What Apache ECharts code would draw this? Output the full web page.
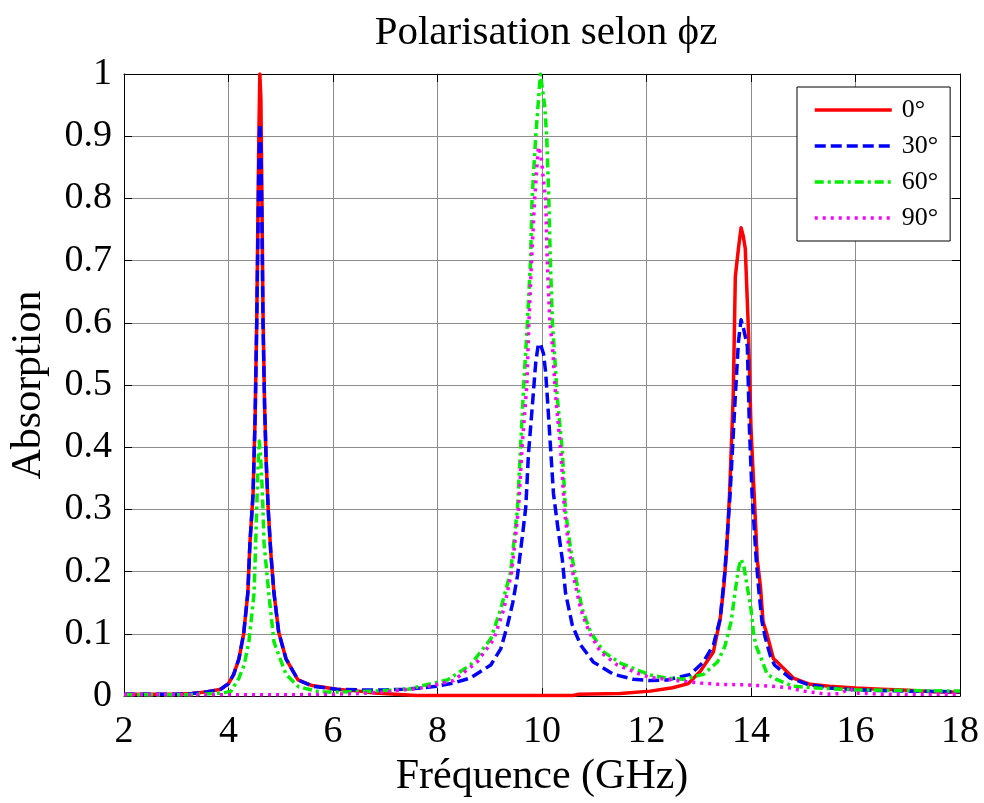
<!DOCTYPE html>
<html>
<head>
<meta charset="utf-8">
<title>Polarisation selon ϕz</title>
<script src="https://cdn.jsdelivr.net/npm/echarts@6/dist/echarts.min.js"></script>
<style>
  html, body { margin: 0; padding: 0; background: #ffffff; }
  #chart { width: 984px; height: 803px; }
</style>
</head>
<body>
<div id="chart"></div>
<script>
// Absorption spectra [frequency (GHz), absorption] for each polarisation angle
const abs0 = [
  [2.0,0.003],[2.5,0.003],[3.0,0.003],[3.3,0.004],[3.6,0.007],[3.85,0.011],[4.0,0.02],[4.1,0.035],
  [4.2,0.06],[4.29,0.1],[4.37,0.166],[4.41,0.246],[4.47,0.325],[4.51,0.45],[4.54,0.6],[4.56,0.75],
  [4.58,0.9],[4.6,1.0],[4.62,0.96],[4.64,0.8],[4.66,0.62],[4.69,0.47],[4.72,0.38],[4.76,0.3],
  [4.81,0.23],[4.87,0.166],[4.96,0.103],[5.1,0.06],[5.33,0.026],[5.6,0.017],[6.07,0.011],[6.5,0.008],
  [6.8,0.005],[7.2,0.003],[7.6,0.001],[10.6,0.001],[10.7,0.003],[11.5,0.004],[12.07,0.008],[12.5,0.0135],
  [12.8,0.02],[13.03,0.04],[13.28,0.071],[13.41,0.124],[13.48,0.177],[13.53,0.23],[13.59,0.325],[13.66,0.483],
  [13.7,0.674],[13.76,0.72],[13.81,0.753],[13.85,0.74],[13.89,0.72],[13.95,0.59],[14.0,0.43],[14.06,0.325],
  [14.12,0.219],[14.18,0.177],[14.23,0.12],[14.31,0.098],[14.43,0.06],[14.5,0.055],[14.81,0.029],[15.13,0.019],
  [15.5,0.016],[16.0,0.013],[16.5,0.011],[16.9,0.01],[17.5,0.007],[18.0,0.006]
];
const abs30 = [
  [2.0,0.003],[2.5,0.003],[3.0,0.003],[3.3,0.004],[3.6,0.007],[3.85,0.011],[4.0,0.02],[4.1,0.035],
  [4.2,0.06],[4.29,0.1],[4.37,0.166],[4.41,0.246],[4.47,0.325],[4.51,0.45],[4.54,0.6],[4.56,0.72],
  [4.58,0.85],[4.6,0.92],[4.62,0.88],[4.64,0.76],[4.66,0.6],[4.69,0.47],[4.72,0.38],[4.76,0.3],
  [4.81,0.23],[4.87,0.166],[4.96,0.103],[5.1,0.06],[5.33,0.026],[5.6,0.016],[6.07,0.011],[6.5,0.01],
  [7.0,0.01],[7.34,0.011],[7.68,0.013],[7.98,0.016],[8.3,0.021],[8.63,0.029],[9.02,0.05],[9.21,0.076],
  [9.34,0.114],[9.44,0.15],[9.53,0.193],[9.63,0.261],[9.69,0.304],[9.74,0.388],[9.82,0.472],[9.88,0.536],
  [9.93,0.566],[9.97,0.566],[10.03,0.55],[10.07,0.52],[10.1,0.483],[10.16,0.404],[10.22,0.325],[10.3,0.273],
  [10.39,0.219],[10.45,0.166],[10.58,0.114],[10.74,0.082],[10.98,0.055],[11.37,0.035],[11.75,0.027],[12.07,0.025],
  [12.4,0.026],[12.84,0.035],[13.09,0.055],[13.28,0.082],[13.41,0.124],[13.5,0.2],[13.6,0.325],[13.7,0.483],
  [13.76,0.57],[13.81,0.605],[13.86,0.59],[13.93,0.563],[13.97,0.43],[14.02,0.325],[14.1,0.219],[14.15,0.17],
  [14.21,0.12],[14.27,0.095],[14.37,0.065],[14.45,0.05],[14.75,0.029],[15.08,0.019],[15.5,0.013],[16.0,0.01],
  [17.0,0.008],[18.0,0.007]
];
const abs60 = [
  [2.0,0.002],[3.0,0.002],[3.5,0.003],[3.9,0.005],[4.05,0.008],[4.2,0.029],[4.3,0.05],[4.39,0.087],
  [4.49,0.166],[4.52,0.246],[4.55,0.33],[4.57,0.38],[4.59,0.41],[4.61,0.39],[4.63,0.36],[4.65,0.325],
  [4.68,0.246],[4.77,0.166],[4.87,0.087],[5.1,0.035],[5.34,0.015],[5.76,0.0065],[6.5,0.007],[7.0,0.009],
  [7.44,0.011],[7.68,0.016],[8.19,0.026],[8.63,0.05],[9.02,0.092],[9.21,0.14],[9.4,0.2],[9.53,0.301],
  [9.59,0.401],[9.65,0.5],[9.72,0.6],[9.78,0.7],[9.81,0.8],[9.88,0.9],[9.97,1.0],[10.05,0.95],
  [10.09,0.9],[10.13,0.8],[10.16,0.7],[10.2,0.6],[10.23,0.563],[10.29,0.483],[10.39,0.393],[10.45,0.298],
  [10.55,0.235],[10.64,0.193],[10.77,0.14],[10.93,0.103],[11.18,0.071],[11.5,0.053],[11.88,0.04],[12.07,0.034],
  [12.39,0.029],[12.7,0.027],[13.09,0.035],[13.36,0.055],[13.5,0.08],[13.62,0.12],[13.7,0.17],[13.76,0.205],
  [13.81,0.22],[13.86,0.21],[13.92,0.18],[14.0,0.14],[14.05,0.1],[14.1,0.08],[14.22,0.055],[14.31,0.035],
  [14.43,0.029],[14.8,0.016],[15.27,0.013],[16.0,0.01],[17.0,0.009],[18.0,0.008]
];
const abs90 = [
  [2.0,0.002],[3.0,0.002],[4.0,0.002],[5.0,0.002],[6.0,0.003],[6.5,0.004],[7.0,0.007],[7.68,0.013],
  [8.31,0.025],[8.76,0.055],[9.08,0.092],[9.27,0.14],[9.42,0.2],[9.55,0.301],[9.62,0.401],[9.71,0.5],
  [9.75,0.6],[9.8,0.7],[9.86,0.8],[9.93,0.883],[9.98,0.87],[10.04,0.82],[10.07,0.8],[10.1,0.7],
  [10.15,0.6],[10.2,0.563],[10.26,0.483],[10.36,0.393],[10.43,0.298],[10.52,0.235],[10.6,0.193],[10.74,0.14],
  [10.9,0.103],[11.12,0.071],[11.44,0.05],[11.88,0.035],[12.07,0.03],[12.39,0.027],[12.7,0.024],[13.03,0.021],
  [13.36,0.019],[13.93,0.018],[14.37,0.016],[14.75,0.013],[15.0,0.008],[15.46,0.003],[15.7,0.004],[15.9,0.012],
  [16.0,0.005],[16.5,0.003],[17.0,0.003],[18.0,0.003]
];

const seriesNames = ['0°', '30°', '60°', '90°'];
const seriesColors = ['#ff0000', '#0000ff', '#00ee00', '#ff00ff'];
const xTicks = { min: 2, max: 18, step: 2 };
const yTicks = { min: 0, max: 1, step: 0.1 };

const serif = '"Liberation Serif", "Times New Roman", serif';
const dashPatterns = ['solid', [11, 5], [9, 4, 3, 4], [3, 5]];
const seriesData = [abs0, abs30, abs60, abs90];

const chart = echarts.init(document.getElementById('chart'), null, { renderer: 'canvas' });

const gridColor = '#8c8c8c';

const option = {
  backgroundColor: '#ffffff',
  animation: false,
  title: {
    text: 'Polarisation selon ϕz',
    left: 541,
    textAlign: 'center',
    top: 8,
    textStyle: { fontFamily: serif, fontWeight: 'normal', fontSize: 41, color: '#000' }
  },
  legend: {
    orient: 'vertical',
    left: 797,
    top: 87,
    padding: [10, 12, 10, 16],
    itemGap: 10,
    itemWidth: 77,
    itemHeight: 26,
    backgroundColor: '#ffffff',
    borderColor: '#000000',
    borderWidth: 1,
    borderRadius: 0,
    itemStyle: { opacity: 0 },
    lineStyle: { width: 3.5 },
    textStyle: { fontFamily: serif, fontSize: 26, color: '#000', padding: [0, 0, 0, 5] },
    data: seriesNames
  },
  grid: { left: 123, right: 24, top: 74, bottom: 98, containLabel: false },
  xAxis: [
    {
      type: 'value', min: xTicks.min, max: xTicks.max, interval: xTicks.step,
      name: 'Fréquence (GHz)', nameLocation: 'middle', nameGap: 54,
      nameTextStyle: { fontFamily: serif, fontSize: 42, color: '#000' },
      axisLine: { show: true, onZero: false, lineStyle: { color: '#000', width: 1 } },
      axisTick: { show: true, inside: true, length: 8, lineStyle: { color: '#000' } },
      axisLabel: { fontFamily: serif, fontSize: 38, color: '#000', margin: 17 },
      splitLine: { show: true, lineStyle: { color: gridColor, width: 1 } }
    },
    {
      type: 'value', position: 'top', min: xTicks.min, max: xTicks.max, interval: xTicks.step,
      axisLine: { show: true, onZero: false, lineStyle: { color: '#000', width: 1 } },
      axisTick: { show: true, inside: true, length: 8, lineStyle: { color: '#000' } },
      axisLabel: { show: false },
      splitLine: { show: false }
    }
  ],
  yAxis: [
    {
      type: 'value', min: yTicks.min, max: yTicks.max, interval: yTicks.step,
      name: 'Absorption', nameLocation: 'middle', nameGap: 74,
      nameTextStyle: { fontFamily: serif, fontSize: 42, color: '#000' },
      axisLine: { show: true, onZero: false, lineStyle: { color: '#000', width: 1 } },
      axisTick: { show: true, inside: true, length: 8, lineStyle: { color: '#000' } },
      axisLabel: {
        fontFamily: serif, fontSize: 38, color: '#000', margin: 12,
        formatter: v => (v === 0 || v === 1) ? String(v) : v.toFixed(1)
      },
      splitLine: { show: true, lineStyle: { color: gridColor, width: 1 } }
    },
    {
      type: 'value', position: 'right', min: yTicks.min, max: yTicks.max, interval: yTicks.step,
      axisLine: { show: true, onZero: false, lineStyle: { color: '#000', width: 1 } },
      axisTick: { show: true, inside: true, length: 8, lineStyle: { color: '#000' } },
      axisLabel: { show: false },
      splitLine: { show: false }
    }
  ],
  series: seriesNames.map((name, i) => ({
    name: name,
    type: 'line',
    xAxisIndex: 0,
    yAxisIndex: 0,
    data: seriesData[i],
    showSymbol: false,
    symbol: 'none',
    color: seriesColors[i],
    lineStyle: { width: 3.5, color: seriesColors[i], type: dashPatterns[i], cap: 'butt', join: 'round' },
    emphasis: { disabled: true },
    z: 2 + i
  }))
};

chart.setOption(option);
</script>
</body>
</html>
